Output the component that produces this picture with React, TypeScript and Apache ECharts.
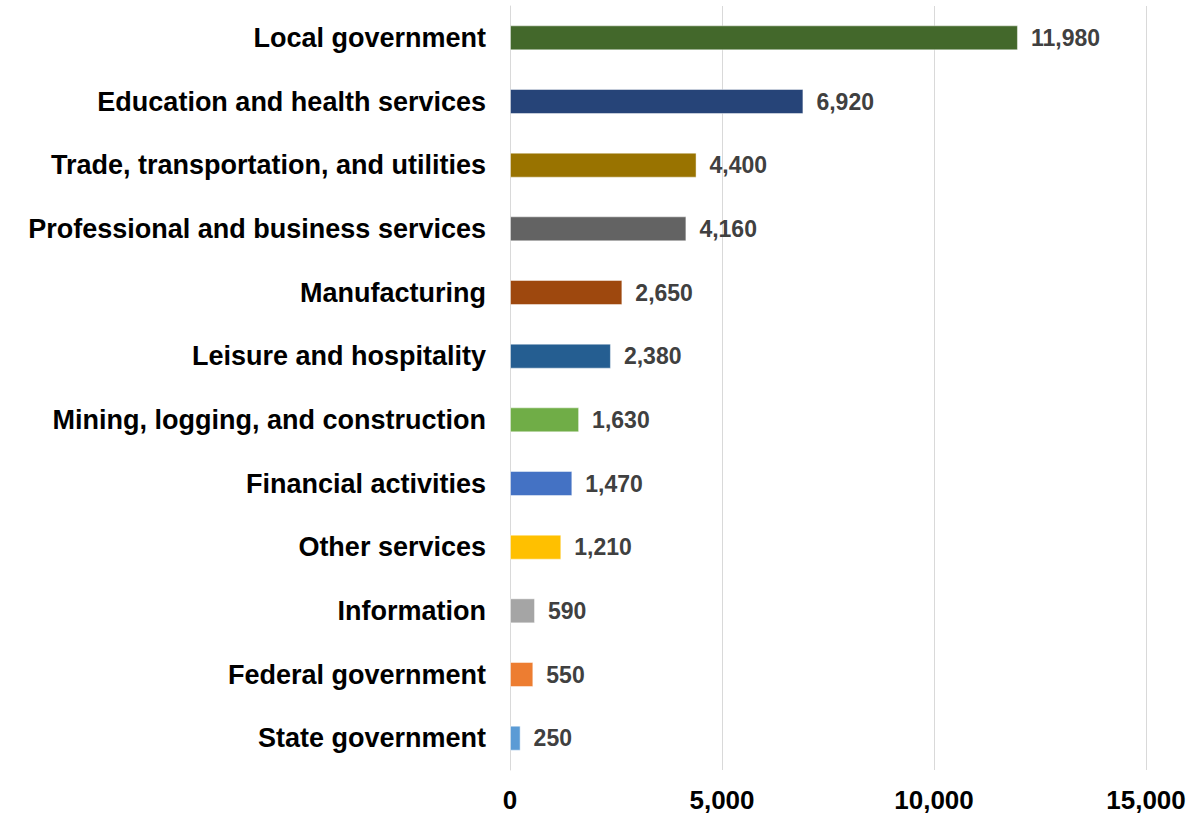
import React, { useEffect, useRef } from "react";
import * as echarts from "echarts";

const categories = [
  "Local government",
  "Education and health services",
  "Trade, transportation, and utilities",
  "Professional and business services",
  "Manufacturing",
  "Leisure and hospitality",
  "Mining, logging, and construction",
  "Financial activities",
  "Other services",
  "Information",
  "Federal government",
  "State government",
];

const values = [11980, 6920, 4400, 4160, 2650, 2380, 1630, 1470, 1210, 590, 550, 250];

const barColors = [
  "#43682b",
  "#264478",
  "#997300",
  "#636363",
  "#9e480e",
  "#255e91",
  "#70ad47",
  "#4472c4",
  "#ffc000",
  "#a5a5a5",
  "#ed7d31",
  "#5b9bd5",
];

const xTicks = { min: 0, max: 15000, interval: 5000 };

export default function App() {
  const ref = useRef<HTMLDivElement>(null);

  useEffect(() => {
    if (!ref.current) return;
    const chart = echarts.init(ref.current, null, { renderer: "svg" });
    const font = "Liberation Sans, Arial, sans-serif";
    chart.setOption({
      animation: false,
      backgroundColor: "#ffffff",
      grid: { left: 510, right: 58, top: 6, bottom: 48, containLabel: false },
      xAxis: {
        type: "value",
        min: xTicks.min,
        max: xTicks.max,
        interval: xTicks.interval,
        axisLine: { show: false },
        axisTick: { show: false },
        splitLine: { show: true, lineStyle: { color: "#d9d9d9", width: 1 } },
        axisLabel: {
          color: "#000000",
          fontSize: 26,
          fontWeight: "bold",
          fontFamily: font,
          margin: 17,
          formatter: (v: number) => v.toLocaleString("en-US"),
        },
      },
      yAxis: {
        type: "category",
        data: categories,
        inverse: true,
        axisLine: { show: true, lineStyle: { color: "#d9d9d9", width: 1 } },
        axisTick: { show: false },
        axisLabel: {
          color: "#000000",
          fontSize: 27,
          fontWeight: "bold",
          fontFamily: font,
          margin: 24,
        },
      },
      series: [
        {
          type: "bar",
          barWidth: 25,
          data: values.map((v, i) => ({
            value: v,
            itemStyle: {
              color: barColors[i],
              borderColor: "rgba(255,255,255,0.45)",
              borderWidth: 1,
            },
          })),
          label: {
            show: true,
            position: "right",
            distance: 13,
            color: "#404040",
            fontSize: 23,
            fontWeight: "bold",
            fontFamily: font,
            formatter: (p: any) => Number(p.value).toLocaleString("en-US"),
          },
        },
      ],
    });
    return () => chart.dispose();
  }, []);

  return (
    <div
      ref={ref}
      style={{ position: "absolute", left: 0, top: 0, width: 1204, height: 818 }}
    />
  );
}
